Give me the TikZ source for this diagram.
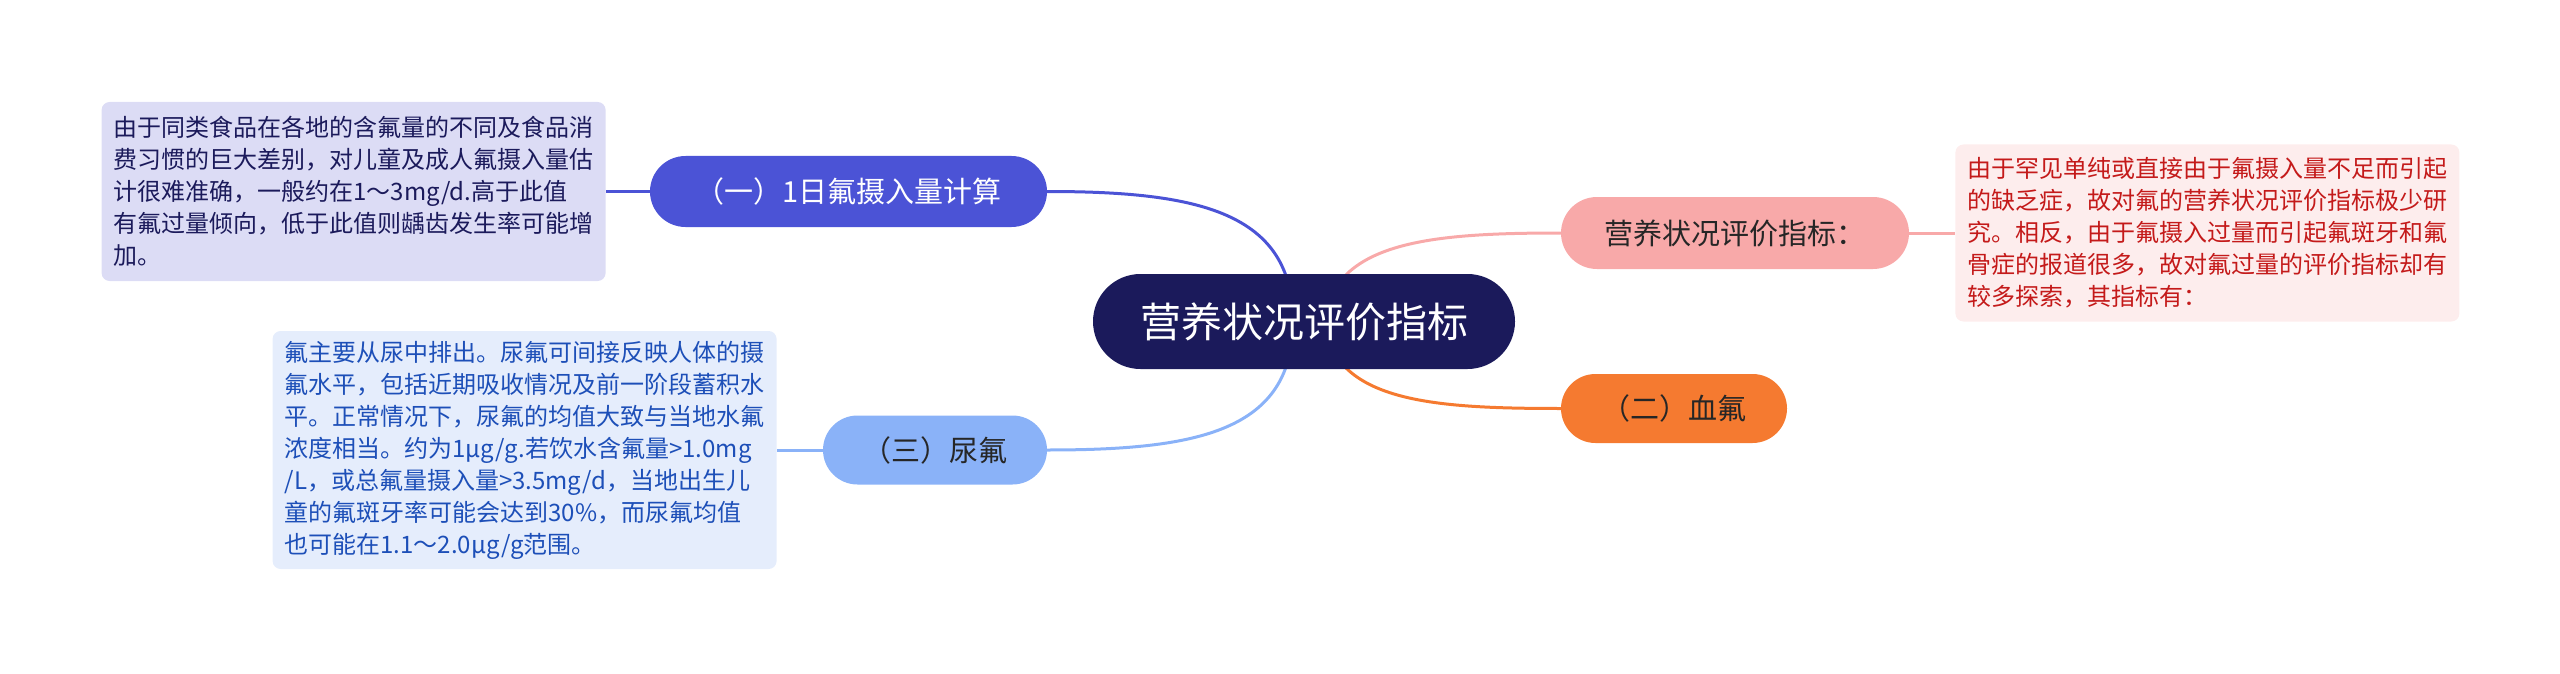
\documentclass[tikz,border=0pt]{standalone}
\usepackage{fontspec}
\setmainfont{Noto Sans CJK SC}
\usetikzlibrary{positioning,backgrounds,shapes.misc}
\definecolor{rootblue}{HTML}{1B1A5B}
\definecolor{oneblue}{HTML}{4B53D6}
\definecolor{onefill}{HTML}{DCDCF5}
\definecolor{threeblue}{HTML}{8AB2F8}
\definecolor{threefill}{HTML}{E5EDFC}
\definecolor{threetext}{HTML}{1D4FB8}
\definecolor{evalpink}{HTML}{F8A9A9}
\definecolor{evalfill}{HTML}{FDEDED}
\definecolor{evaltext}{HTML}{C41A1A}
\definecolor{twoorange}{HTML}{F57A30}
\definecolor{darktext}{HTML}{262626}

\begin{document}
\begin{tikzpicture}[
    x=1pt, y=-1pt,
    branch/.style={rounded rectangle, minimum height=70pt, inner sep=0pt, align=center, font=\fontsize{29}{34}\selectfont, text=darktext},
    root/.style={branch, fill=rootblue, text=white, minimum width=422pt, minimum height=95pt, font=\fontsize{41}{48}\selectfont},
    leaf/.style={rounded corners=8pt, align=left, inner xsep=12pt, inner ysep=4pt, minimum width=503pt, font=\fontsize{24}{32}\selectfont},
    link/.style={line width=3pt},
    node distance=46pt,
]
\useasboundingbox (0,0) rectangle (2560,674);

\node[root] (ctr) at (1304,321.5) {营养状况评价指标};

\node[branch, fill=oneblue, text=white, minimum width=397pt, minimum height=71pt] (daily) at (848.5,191.5) {（一）1日氟摄入量计算};
\node[leaf, fill=onefill, text=rootblue, minimum height=179pt, left=44pt of daily] (dailynote) {%
由于同类食品在各地的含氟量的不同及食品消\\
费习惯的巨大差别，对儿童及成人氟摄入量估\\
计很难准确，一般约在1～3mg/d.高于此值\\
有氟过量倾向，低于此值则龋齿发生率可能增\\
加。};

\node[branch, fill=threeblue, minimum width=224pt, minimum height=69pt] (urine) at (935,450) {（三）尿氟};
\node[leaf, fill=threefill, text=threetext, minimum height=238pt, left=of urine] (urinenote) {%
氟主要从尿中排出。尿氟可间接反映人体的摄\\
氟水平，包括近期吸收情况及前一阶段蓄积水\\
平。正常情况下，尿氟的均值大致与当地水氟\\
浓度相当。约为1μg/g.若饮水含氟量>1.0mg\\
/L，或总氟量摄入量>3.5mg/d，当地出生儿\\
童的氟斑牙率可能会达到30\%，而尿氟均值\\
也可能在1.1～2.0μg/g范围。};

\node[branch, fill=evalpink, minimum width=348pt, minimum height=72pt] (eval) at (1735,233) {营养状况评价指标：};
\node[leaf, fill=evalfill, text=evaltext, minimum height=177pt, right=of eval] (evalnote) {%
由于罕见单纯或直接由于氟摄入量不足而引起\\
的缺乏症，故对氟的营养状况评价指标极少研\\
究。相反，由于氟摄入过量而引起氟斑牙和氟\\
骨症的报道很多，故对氟过量的评价指标却有\\
较多探索，其指标有：};

\node[branch, fill=twoorange, minimum width=226pt, minimum height=69pt] (blood) at (1674,408.5) {（二）血氟};

% connectors behind the nodes
\begin{scope}[on background layer]
\draw[link, draw=oneblue] ([xshift=-11pt]ctr.center) .. controls +(0,-110) and +(150,0) .. (daily.east);
\draw[link, draw=threeblue] ([xshift=-11pt]ctr.center) .. controls +(0,110) and +(150,0) .. (urine.east);
\draw[link, draw=evalpink] ([xshift=20pt]ctr.center) .. controls +(10,-80) and +(-130,0) .. (eval.west);
\draw[link, draw=twoorange] ([xshift=20pt]ctr.center) .. controls +(10,80) and +(-130,0) .. (blood.west);
\draw[link, draw=oneblue] (daily.west) -- (daily.west -| dailynote.east);
\draw[link, draw=threeblue] (urine.west) -- (urine.west -| urinenote.east);
\draw[link, draw=evalpink] (eval.east) -- (eval.east -| evalnote.west);
\end{scope}
\end{tikzpicture}
\end{document}
